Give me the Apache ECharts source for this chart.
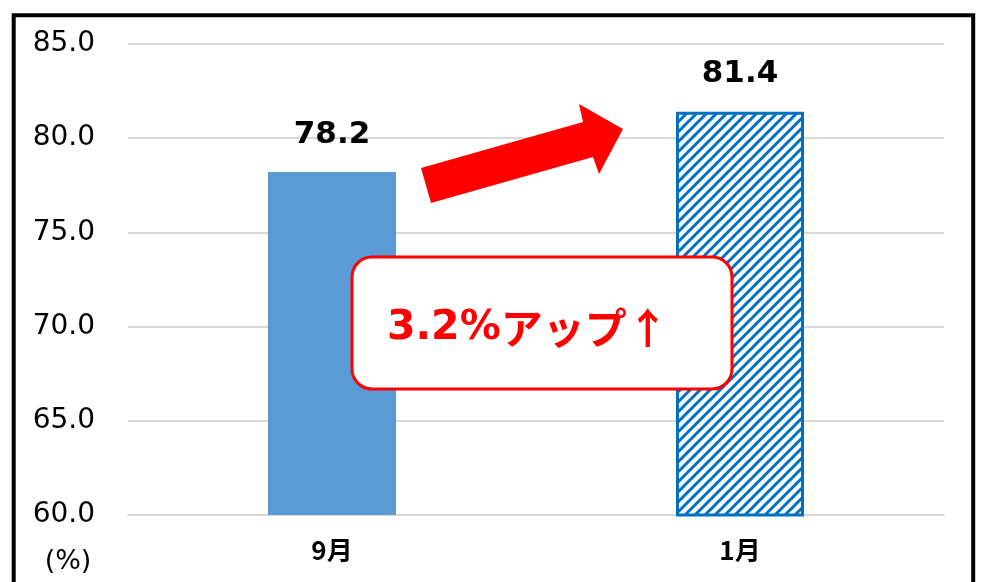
<!DOCTYPE html>
<html><head><meta charset="utf-8">
<script src="https://cdn.jsdelivr.net/npm/echarts@6/dist/echarts.min.js"></script>
<style>html,body{margin:0;padding:0;background:#fff}#c{width:987px;height:582px}</style>
</head><body><div id="c"></div>
<script>
const categories = ['9月', '1月'];
const values = [78.2, 81.4];
const yMin = 60, yMax = 85, yStep = 5;
const unitLabel = '(%)';
const calloutNumber = '3.2%';
const calloutWord = 'アップ↑';

const numFont = "'DejaVu Sans','Noto Sans CJK JP',sans-serif";
const jpFont = "'Noto Sans CJK JP','DejaVu Sans',sans-serif";

function hatch() {
  const s = 10;
  const c = document.createElement('canvas');
  c.width = s; c.height = s;
  const g = c.getContext('2d');
  g.fillStyle = '#fff'; g.fillRect(0, 0, s, s);
  g.strokeStyle = '#0070C0'; g.lineWidth = 3;
  g.beginPath();
  g.moveTo(0, s); g.lineTo(s, 0);
  g.moveTo(-s / 2, s / 2); g.lineTo(s / 2, -s / 2);
  g.moveTo(s / 2, s * 1.5); g.lineTo(s * 1.5, s / 2);
  g.stroke();
  return c;
}

const chart = echarts.init(document.getElementById('c'), null, {renderer: 'canvas'});
const option = {
  animation: false,
  backgroundColor: '#fff',
  grid: {left: 128, right: 43, top: 44, bottom: 67},
  xAxis: {
    type: 'category', data: categories,
    axisLine: {lineStyle: {color: '#d9d9d9', width: 2}},
    axisTick: {show: false},
    axisLabel: {fontSize: 26, fontWeight: 'bold', color: '#000', margin: 22, fontFamily: jpFont}
  },
  yAxis: {
    type: 'value', min: yMin, max: yMax, interval: yStep,
    axisLine: {show: false}, axisTick: {show: false},
    splitLine: {lineStyle: {color: '#d9d9d9', width: 2}},
    axisLabel: {fontSize: 28, color: '#000', margin: 33, fontFamily: numFont,
      formatter: v => v.toFixed(1)}
  },
  series: [{
    type: 'bar', barWidth: 128,
    data: values.map((v, i) => ({
      value: v,
      itemStyle: i === 0 ? {color: '#5B9BD5'} :
        {color: {image: hatch(), repeat: 'repeat'}, borderColor: '#0070C0', borderWidth: 3}
    })),
    label: {show: true, position: 'top', distance: 22, fontSize: 31, fontWeight: 'bold',
      color: '#000', fontFamily: numFont, formatter: p => p.value.toFixed(1)}
  }],
  graphic: [
    {type: 'rect', z: 100, shape: {x: 13.7, y: 15.3, width: 959.5, height: 700},
      style: {fill: 'none', stroke: '#000', lineWidth: 4}},
    {type: 'polygon', z: 100,
      shape: {points: [[421, 168], [583, 122], [579, 104], [623, 129], [599, 174], [593, 157], [431, 203]]},
      style: {fill: '#ff0000'}},
    {type: 'rect', z: 100, shape: {x: 352, y: 257, width: 380, height: 132, r: 20},
      style: {fill: '#fff', stroke: '#ff0000', lineWidth: 3}},
    {type: 'text', z: 101, x: 387, y: 328,
      style: {text: '{a|' + calloutNumber + '}{b|' + calloutWord + '}',
        verticalAlign: 'middle', align: 'left',
        rich: {
          a: {fill: '#ff0000', fontSize: 41, fontWeight: 'bold', fontFamily: numFont},
          b: {fill: '#ff0000', fontSize: 42, fontWeight: 'bold', fontFamily: jpFont}
        }}},
    {type: 'text', z: 101, x: 68, y: 562,
      style: {text: unitLabel, fill: '#000', fontSize: 27, fontFamily: numFont,
        verticalAlign: 'middle', align: 'center'}}
  ]
};
chart.setOption(option);
</script>
</body></html>
